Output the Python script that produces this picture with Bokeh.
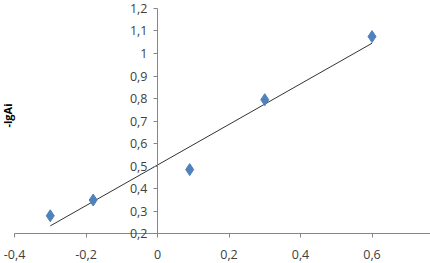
import numpy as np
from bokeh.plotting import figure
from bokeh.models import Range1d, FixedTicker, Label
from bokeh.embed import file_html
from bokeh.resources import INLINE

# data
x_vals = [-0.3, -0.18, 0.09, 0.3, 0.6]
y_vals = [0.28, 0.35, 0.485, 0.795, 1.075]
x_ticks = [-0.4, -0.2, 0.0, 0.2, 0.4, 0.6]
x_tick_labels = ["-0,4", "-0,2", "0", "0,2", "0,4", "0,6"]
y_ticks = [0.2, 0.3, 0.4, 0.5, 0.6, 0.7, 0.8, 0.9, 1.0, 1.1, 1.2]
y_tick_labels = ["0,2", "0,3", "0,4", "0,5", "0,6", "0,7", "0,8", "0,9", "1", "1,1", "1,2"]
y_title = "-lgAi"

# linear trendline (least squares)
slope, intercept = np.polyfit(x_vals, y_vals, 1)
tx = [min(x_vals), max(x_vals)]
ty = [slope * v + intercept for v in tx]

FONT = "Open Sans"
AX = "#868686"
LAB = "#404040"

p = figure(width=430, height=263, output_backend="svg", toolbar_location=None,
           x_range=Range1d(-0.4392, 0.7636), y_range=Range1d(0.0684, 1.2350),
           min_border_left=0, min_border_right=0, min_border_top=0, min_border_bottom=0)
p.outline_line_color = None
p.grid.visible = False
p.background_fill_color = "white"
p.border_fill_color = "white"

p.line(tx, ty, line_color="#333333", line_width=1)
p.scatter(x_vals, y_vals, marker="diamond", size=12, fill_color="#4F81BD",
          line_color="#4F81BD")

xa = p.xaxis[0]
xa.fixed_location = 0.2
xa.bounds = (-0.4, 0.7636)
xa.ticker = FixedTicker(ticks=x_ticks)
xa.major_label_overrides = dict(zip(x_ticks, x_tick_labels))
xa.axis_line_color = AX
xa.major_tick_line_color = AX
xa.major_tick_in = 0
xa.major_tick_out = 4
xa.minor_tick_line_color = None
xa.major_label_standoff = 12
xa.major_label_text_font = FONT
xa.major_label_text_font_size = "12.5px"
xa.major_label_text_color = LAB

ya = p.yaxis[0]
ya.fixed_location = 0
ya.bounds = (0.2, 1.2)
ya.ticker = FixedTicker(ticks=y_ticks)
ya.major_label_overrides = dict(zip(y_ticks, y_tick_labels))
ya.axis_line_color = AX
ya.major_tick_line_color = AX
ya.major_tick_in = 0
ya.major_tick_out = 4
ya.minor_tick_line_color = None
ya.major_label_standoff = 6
ya.major_label_text_font = FONT
ya.major_label_text_font_size = "12.5px"
ya.major_label_text_color = LAB

p.add_layout(Label(x=7, y=148, x_units="screen", y_units="screen", text=y_title,
                   angle=np.pi / 2, text_align="center", text_baseline="middle",
                   text_font=FONT, text_font_style="bold", text_font_size="11px",
                   text_color="#000000"))

open("out.html", "w").write(file_html(p, INLINE))
